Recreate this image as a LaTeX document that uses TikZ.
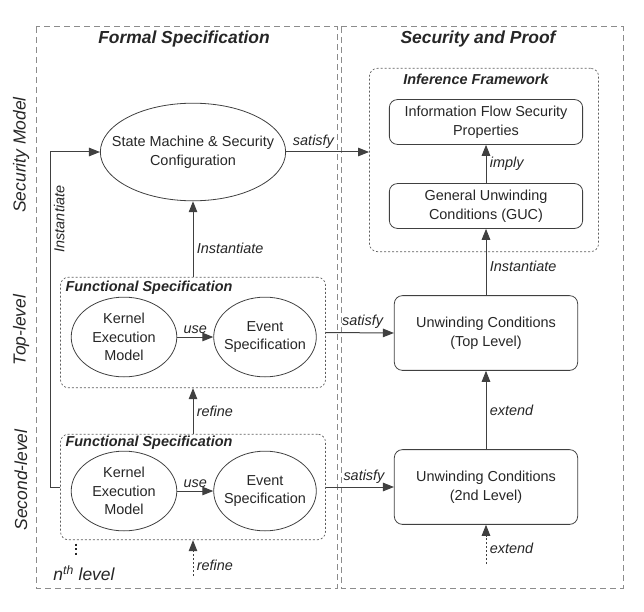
\documentclass[tikz,border=0pt]{standalone}
\usepackage{fontspec}
\setmainfont{Liberation Sans}
\usetikzlibrary{arrows.meta,shapes.geometric}
\definecolor{linegray}{HTML}{404040}
\definecolor{boxgray}{HTML}{8C8C8C}
\definecolor{textgray}{HTML}{262626}
\newcommand{\bodysize}{\fontsize{14.5}{18.8}\selectfont}
\newcommand{\bigsize}{\fontsize{17.5}{20}\selectfont}
\tikzset{
  every node/.style={font=\bodysize, text=textgray},
  flow/.style={draw=linegray, line width=1bp, -{Triangle[length=11bp,width=8.5bp]}},
  dotflow/.style={flow, dash pattern=on 2bp off 2bp},
  oval/.style={ellipse, draw=linegray, line width=0.8bp, inner xsep=-17bp, inner ysep=0pt, align=center},
  rbox/.style={draw=linegray, line width=0.8bp, rounded corners=8bp, align=center, inner sep=0pt},
  outerbox/.style={draw=boxgray, line width=1bp, dash pattern=on 6bp off 4bp},
  framebox/.style={draw=linegray!85, line width=0.7bp, dash pattern=on 2bp off 2bp,
    rounded corners=8bp, inner sep=0pt},
  lbl/.style={font=\bodysize\itshape},
  ttl/.style={font=\bigsize\bfseries\itshape},
  subttl/.style={font=\bodysize\bfseries\itshape, anchor=west},
  side/.style={font=\bigsize\itshape, rotate=90},
}
\begin{document}
\begin{tikzpicture}[x=1bp,y=-1bp]
	\useasboundingbox (0,0) rectangle (644,612);
	% outer columns
	\draw[outerbox] (36,27) rectangle (337,588);
	\draw[outerbox] (341,27) rectangle (623,588);
	\node[ttl] (formal) at (184,39) {Formal Specification};
	\node[ttl] (secproof) at (478,39) {Security and Proof};
	% level labels
	\node[side] (secmodel) at (21,155) {Security Model};
	\node[side] (toplevel) at (21,330) {Top-level};
	\node[side] (secondlevel) at (21,480) {Second-level};
	% formal specification column
	\node[oval, minimum width=186, minimum height=98] (sm) at (193,152) {State Machine \& Security\\Configuration};
	\node[framebox, minimum width=266, minimum height=111] (fspecA) at (193,332.5) {};
	\node[subttl] (fspecAttl) at (62,288) {Functional Specification};
	\node[oval, minimum width=106, minimum height=80] (kerA) at (124,337) {Kernel\\Execution\\Model};
	\node[oval, minimum width=103, minimum height=80] (evA) at (265,337) {Event\\Specification};
	\node[framebox, minimum width=266, minimum height=106] (fspecB) at (193,487) {};
	\node[subttl] (fspecBttl) at (62,443) {Functional Specification};
	\node[oval, minimum width=106, minimum height=80] (kerB) at (124,491) {Kernel\\Execution\\Model};
	\node[oval, minimum width=103, minimum height=80] (evB) at (265,491) {Event\\Specification};
	\coordinate (refB) at (193,576);
	\draw[line width=2.2bp, draw=textgray, dash pattern=on 2bp off 2.6bp] (76,543.5) -- (76,557);
	\node[font=\bigsize\itshape] (nlevel) at (84,573) {n\textsuperscript{th} level};
	% security and proof column
	\node[framebox, minimum width=230, minimum height=184] (inf) at (484,160) {};
	\node[subttl, anchor=center] (infttl) at (476,79) {Inference Framework};
	\node[rbox, minimum width=194, minimum height=45] (ifs) at (486,122) {Information Flow Security\\Properties};
	\node[rbox, minimum width=194, minimum height=45] (guc) at (486,206) {General Unwinding\\Conditions (GUC)};
	\node[rbox, minimum width=184, minimum height=75] (ucA) at (486,333) {Unwinding Conditions\\(Top Level)};
	\node[rbox, minimum width=184, minimum height=75] (ucB) at (486,487) {Unwinding Conditions\\(2nd Level)};
	\coordinate (extB) at (486,564);
	% connectors
	\draw[flow] (sm.east) -- (sm.east -| inf.west) node[lbl, above, pos=0.33] {satisfy};
	\draw[flow] (fspecA.north) -- (sm.south) node[lbl, right, pos=0.38] {Instantiate};
	\draw[flow] (fspecB.west) -- ++(-10,0) |- node[lbl, rotate=90, anchor=north, pos=0.4] {Instantiate} (sm.west);
	\draw[flow] (kerA) -- (evA) node[lbl, above, midway] {use};
	\draw[flow] (kerB) -- (evB) node[lbl, above, midway] {use};
	\draw[flow] (fspecB.north) -- (fspecA.south) node[lbl, right, midway] {refine};
	\draw[dotflow] (refB) -- (fspecB.south) node[lbl, right, pos=0.3] {refine};
	\draw[flow] (fspecA.east) -- (ucA.west) node[lbl, above, pos=0.54] {satisfy};
	\draw[flow] (fspecB.east) -- (ucB.west) node[lbl, above, pos=0.56] {satisfy};
	\draw[flow] (ucA.north) -- (guc.south) node[lbl, right, pos=0.43] {Instantiate};
	\draw[flow] (guc.north) -- (ifs.south) node[lbl, right, midway] {imply};
	\draw[flow] (ucB.north) -- (ucA.south) node[lbl, right, midway] {extend};
	\draw[dotflow] (extB) -- (ucB.south) node[lbl, right, pos=0.4] {extend};
\end{tikzpicture}
\end{document}
